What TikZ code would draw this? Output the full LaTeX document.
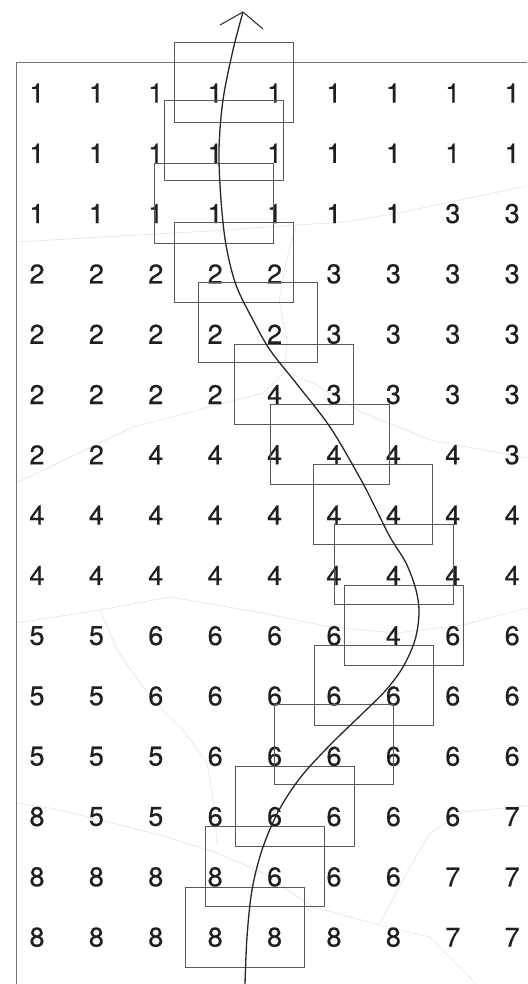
\documentclass[tikz,border=0pt]{standalone}
\usepackage{fontspec}
\setmainfont[FakeBold=0.4]{TeX Gyre Heros}
\begin{document}
\begin{tikzpicture}[x=1pt,y=-1pt,
  digit/.style={inner sep=0pt, text=black!88, font=\fontsize{27}{27}\selectfont},
  win/.style={draw=black!65, line width=0.8pt, minimum width=119pt, minimum height=80pt, inner sep=0pt},
  frameline/.style={draw=black!55, line width=0.9pt},
  faint/.style={draw=black!11, line width=0.6pt},
  curve/.style={draw=black!85, line width=1.3pt},
  tipline/.style={draw=black!80, line width=1.1pt}]
\useasboundingbox (0,0) rectangle (527,984);
\fill[white] (0,0) rectangle (527,984);

% faint region boundaries
\draw[faint] (16,242) -- (120,236) -- (210,231) -- (296,225) -- (346,222) -- (403,212) -- (450,202) -- (527,186);
\draw[faint] (296,225) -- (286,262) -- (279,300) -- (287,340) -- (285,372);
\draw[faint] (285,372) -- (263,393) -- (133,427) -- (16,483);
\draw[faint] (285,372) -- (313,383) -- (363,413) -- (430,440) -- (527,458);
\draw[faint] (16,623) -- (100,610) -- (170,597) -- (263,613) -- (330,627) -- (396,633) -- (463,625) -- (527,608);
\draw[faint] (100,610) -- (117,650) -- (150,697) -- (183,730) -- (207,763) -- (213,800) -- (217,843);
\draw[faint] (16,803) -- (50,808) -- (100,820) -- (167,837) -- (217,853) -- (263,873) -- (313,907) -- (380,925) -- (430,937) -- (476,984);
\draw[faint] (527,806) -- (513,807) -- (463,812) -- (430,833) -- (410,867) -- (380,923);

% frame
\coordinate (ftl) at (16,62);
\coordinate (fbl) at (16,984);
\coordinate (ftr) at (527,62);
\draw[frameline] (fbl) -- (ftl) -- (ftr);

% numbers
\foreach \row [count=\r] in {
  {1,1,1,1,1,1,1,1,1},
  {1,1,1,1,1,1,1,1,1},
  {1,1,1,1,1,1,1,3,3},
  {2,2,2,2,2,3,3,3,3},
  {2,2,2,2,2,3,3,3,3},
  {2,2,2,2,4,3,3,3,3},
  {2,2,4,4,4,4,4,4,3},
  {4,4,4,4,4,4,4,4,4},
  {4,4,4,4,4,4,4,4,4},
  {5,5,6,6,6,6,4,6,6},
  {5,5,6,6,6,6,6,6,6},
  {5,5,5,6,6,6,6,6,6},
  {8,5,5,6,6,6,6,6,7},
  {8,8,8,8,6,6,6,7,7},
  {8,8,8,8,8,8,8,7,7}}
{
  \foreach \v [count=\c] in \row {
    \node[digit] (n-\r-\c) at ({37+59.4*(\c-1)},{93+60.3*(\r-1)}) {\v};
  }
}

% windows
\node[win] (b1) at (233.5,82.5) {};
\node[win] (b2) at (224,140) {};
\node[win] (b3) at (213.5,203) {};
\node[win] (b4) at (234,262.5) {};
\node[win] (b5) at (257.5,322.5) {};
\node[win] (b6) at (293.5,384) {};
\node[win] (b7) at (329.5,444) {};
\node[win] (b8) at (373,504) {};
\node[win] (b9) at (393.5,564.5) {};
\node[win] (b10) at (403.5,625) {};
\node[win] (b11) at (373.5,685) {};
\node[win] (b12) at (333.5,744.5) {};
\node[win] (b13) at (294.5,806) {};
\node[win] (b14) at (264.5,866.5) {};
\node[win] (b15) at (245,927.5) {};

% trajectory
\coordinate (cs) at (245,984);
\coordinate (ct) at (243,12);
\draw[curve] plot[smooth, tension=0.55] coordinates {
  (245,984) (247,937) (252,890) (262,850) (278,812) (300,778) (330,745)
  (363,713) (386,690) (403,667) (415,640) (419,613) (416,590) (406,563)
  (390,537) (375,507) (360,478) (330,427) (296,383) (270,350) (253,320)
  (236,285) (226,245) (221,200) (219,150) (223,100) (233,50) (243,12)};
\coordinate (al) at (220,25);
\coordinate (ar) at (263,29);
\draw[tipline] (al) -- (ct) -- (ar);
\end{tikzpicture}
\end{document}
